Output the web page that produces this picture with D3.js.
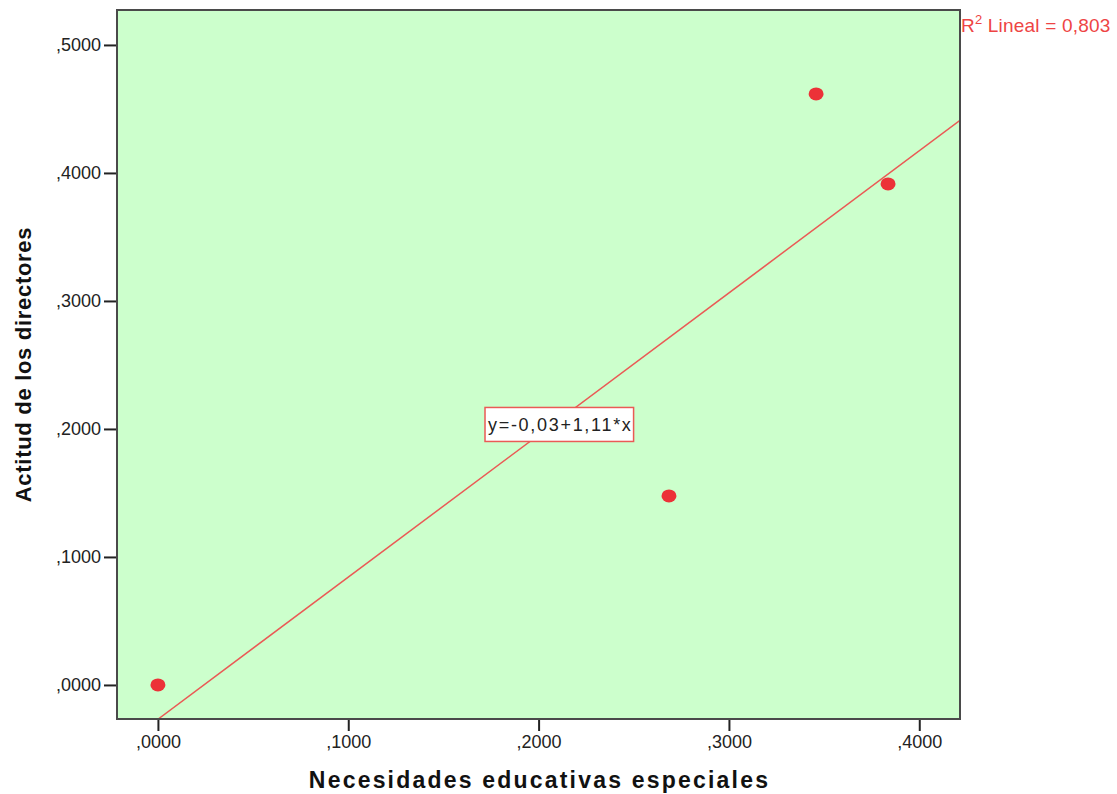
<!DOCTYPE html>
<html><head><meta charset="utf-8">
<script src="https://cdn.jsdelivr.net/npm/d3@7"></script>
<style>body{margin:0;background:#fff}</style>
</head><body>
<svg id="c" width="1117" height="794"></svg>
<script>
const xValues = [0.0000, 0.2685, 0.3458, 0.3836];
const yValues = [0.0000, 0.1477, 0.4617, 0.3914];
const xTicks = [0, 0.1, 0.2, 0.3, 0.4];
const yTicks = [0, 0.1, 0.2, 0.3, 0.4, 0.5];
const xTitle = "Necesidades educativas especiales";
const yTitle = "Actitud de los directores";
const eqLabel = "y=-0,03+1,11*x";
const r2Label = "0,803";

const svg = d3.select("#c");
const L = 117, R = 960, T = 10, B = 719;
const FONT = "Liberation Sans, Arial, sans-serif";
const x = d3.scaleLinear().domain([-0.0215, 0.4214]).range([L, R]);
const y = d3.scaleLinear().domain([-0.0266, 0.5273]).range([B, T]);
const fmt = v => "," + d3.format(".4f")(v).split(".")[1];

svg.append("rect").attr("x", L).attr("y", T).attr("width", R - L).attr("height", B - T)
  .attr("fill", "#ccffcc");

// regression
const n = xValues.length;
const mx = d3.mean(xValues), my = d3.mean(yValues);
let sxy = 0, sxx = 0;
for (let i = 0; i < n; i++) { sxy += (xValues[i]-mx)*(yValues[i]-my); sxx += (xValues[i]-mx)**2; }
const slope = sxy / sxx, icpt = my - slope * mx;
const x0 = Math.max(x.domain()[0], (y.domain()[0]-icpt)/slope);
const x1 = x.domain()[1];
svg.append("defs").append("clipPath").attr("id","clip").append("rect")
  .attr("x", L).attr("y", T).attr("width", R-L).attr("height", B-T);
svg.append("line").attr("clip-path","url(#clip)")
  .attr("x1", x(x0)).attr("y1", y(icpt + slope*x0))
  .attr("x2", x(x1)).attr("y2", y(icpt + slope*x1))
  .attr("stroke", "#ea5a55").attr("stroke-width", 1.5);

// points
svg.selectAll("ellipse.pt").data(xValues).join("ellipse").attr("class","pt")
  .attr("cx", (d) => x(d)).attr("cy", (d,i) => y(yValues[i]))
  .attr("rx", 7.5).attr("ry", 6.5).attr("fill", "#ec3238");

// axes
const xa = svg.append("g").attr("transform", `translate(0,${B})`)
  .call(d3.axisBottom(x).tickValues(xTicks).tickFormat(fmt).tickSize(12).tickPadding(4));
const ya = svg.append("g").attr("transform", `translate(${L},0)`)
  .call(d3.axisLeft(y).tickValues(yTicks).tickFormat(fmt).tickSize(13).tickPadding(3));
[xa, ya].forEach(a => {
  a.select(".domain").remove();
  a.selectAll("line").attr("stroke", "#222").attr("stroke-width", 2);
  a.selectAll("text").attr("font-family", FONT)
    .attr("font-size", 18).attr("fill", "#222");
});

// frame
svg.append("rect").attr("x", L).attr("y", T).attr("width", R - L).attr("height", B - T)
  .attr("fill", "none").attr("stroke", "#4a4a4a").attr("stroke-width", 2);

// equation label
const eg = svg.append("g").attr("transform", `translate(${x(0.2114)},${y(0.2035)})`);
const et = eg.append("text").attr("text-anchor","middle").attr("dy","0.35em")
  .attr("font-family",FONT).attr("font-size",18).attr("letter-spacing",1.7).attr("fill","#222")
  .text(eqLabel);
const bb = et.node().getBBox();
eg.insert("rect","text").attr("x", bb.x - 3).attr("y", -17).attr("width", bb.width + 4).attr("height", 34)
  .attr("fill","#fff").attr("stroke","#ea5a55").attr("stroke-width",1.5);

// R2 label
const rt = svg.append("text").attr("x", R + 1).attr("y", 32)
  .attr("font-family",FONT).attr("font-size",19).attr("letter-spacing",0.2).attr("fill","#ee4444");
rt.append("tspan").text("R");
rt.append("tspan").attr("dy", -8).attr("font-size", 13).text("2");
rt.append("tspan").attr("dy", 8).text(" Lineal = " + r2Label);

// titles
svg.append("text").attr("x", (L+R)/2 + 1).attr("y", 788).attr("text-anchor","middle")
  .attr("font-family",FONT).attr("font-weight","bold").attr("font-size",23)
  .attr("fill","#111").attr("letter-spacing", 2.2).text(xTitle);
svg.append("text").attr("transform", `translate(31,${(T+B)/2}) rotate(-90)`).attr("text-anchor","middle")
  .attr("font-family",FONT).attr("font-weight","bold").attr("font-size",22)
  .attr("fill","#111").attr("letter-spacing", 0.7).text(yTitle);
</script>
</body></html>
